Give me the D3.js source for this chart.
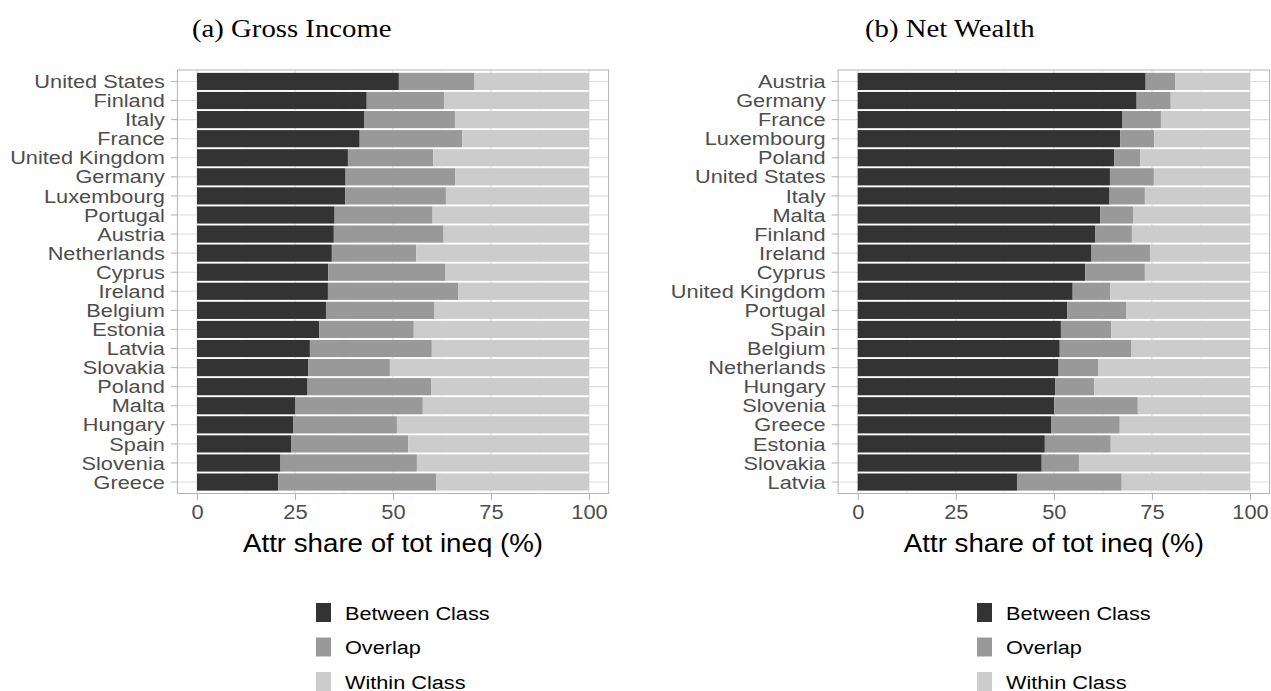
<!DOCTYPE html>
<html>
<head>
<meta charset="utf-8">
<script src="https://cdn.jsdelivr.net/npm/d3@7"></script>
<style>
body { margin: 0; background: #fff; }
svg { display: block; }
</style>
</head>
<body>
<svg id="chart" width="1271" height="691"></svg>
<script>
var components = ["Between Class", "Overlap", "Within Class"];
var fills = ["#333333", "#999999", "#cccccc"];
var xTicks = [0, 25, 50, 75, 100];
var xMinor = [12.5, 37.5, 62.5, 87.5];

// (a) gross income, top to bottom
var incomeCountries = ["United States", "Finland", "Italy", "France", "United Kingdom", "Germany",
    "Luxembourg", "Portugal", "Austria", "Netherlands", "Cyprus", "Ireland", "Belgium", "Estonia",
    "Latvia", "Slovakia", "Poland", "Malta", "Hungary", "Spain", "Slovenia", "Greece"];
var incomeBetween = [51.5, 43.3, 42.6, 41.5, 38.5, 37.9, 37.8, 35.1, 34.9, 34.4, 33.5,
    33.4, 32.9, 31.2, 28.8, 28.4, 28.2, 25.0, 24.6, 24.1, 21.3, 20.7];
var incomeOverlap = [19.3, 19.7, 23.2, 26.2, 21.8, 28.0, 25.7, 25.0, 28.0, 21.5, 29.9,
    33.2, 27.7, 24.1, 31.1, 20.8, 31.6, 32.6, 26.4, 29.8, 34.8, 40.3];
var incomeWithin = [29.2, 37.0, 34.2, 32.3, 39.7, 34.1, 36.5, 39.9, 37.1, 44.1, 36.6,
    33.4, 39.4, 44.7, 40.1, 50.8, 40.2, 42.4, 49.0, 46.1, 43.9, 39.0];

// (b) net wealth, top to bottom
var wealthCountries = ["Austria", "Germany", "France", "Luxembourg", "Poland", "United States",
    "Italy", "Malta", "Finland", "Ireland", "Cyprus", "United Kingdom", "Portugal", "Spain",
    "Belgium", "Netherlands", "Hungary", "Slovenia", "Greece", "Estonia", "Slovakia", "Latvia"];
var wealthBetween = [73.4, 71.1, 67.5, 66.9, 65.4, 64.3, 64.2, 61.8, 60.6, 59.6, 58.0,
    54.8, 53.4, 51.8, 51.5, 51.2, 50.4, 50.1, 49.4, 47.7, 46.9, 40.6];
var wealthOverlap = [7.5, 8.7, 9.8, 8.7, 6.6, 11.2, 9.0, 8.4, 9.3, 14.9, 15.2,
    9.6, 15.1, 12.8, 18.3, 10.1, 9.9, 21.3, 17.4, 16.8, 9.5, 26.7];
var wealthWithin = [19.1, 20.2, 22.7, 24.4, 28.0, 24.5, 26.8, 29.8, 30.1, 25.5, 26.8,
    35.6, 31.5, 35.4, 30.2, 38.7, 39.7, 28.6, 33.2, 35.5, 43.6, 32.7];

// the sans text in the reference is a little wider than plain Arial
var SX = 1.12;
var sans = "'Liberation Sans', Arial, sans-serif";

var svg = d3.select("#chart");

function drawPanel(p) {
    var rows = p.countries.map(function(c, i) {
        return {country: c, "Between Class": p.between[i], "Overlap": p.overlap[i], "Within Class": p.within[i]};
    });
    var series = d3.stack().keys(components)(rows);

    var x = d3.scaleLinear().domain([-5, 105]).range([p.left, p.right]);
    var y = d3.scaleBand().domain(p.countries).range([70, 493.5])
        .paddingInner(0.1).paddingOuter(0.15);

    var g = svg.append("g");

    // grid
    g.selectAll("line.minor").data(xMinor).enter().append("line")
        .attr("x1", x).attr("x2", x).attr("y1", 70).attr("y2", 493.5)
        .attr("stroke", "#ebebeb").attr("stroke-width", 0.6);
    g.selectAll("line.vmajor").data(xTicks).enter().append("line")
        .attr("x1", x).attr("x2", x).attr("y1", 70).attr("y2", 493.5)
        .attr("stroke", "#dedede").attr("stroke-width", 1.1);
    g.selectAll("line.hmajor").data(p.countries).enter().append("line")
        .attr("x1", p.left).attr("x2", p.right)
        .attr("y1", d => y(d) + y.bandwidth() / 2).attr("y2", d => y(d) + y.bandwidth() / 2)
        .attr("stroke", "#dedede").attr("stroke-width", 1.1);

    // bars
    g.selectAll("g.layer").data(series).enter().append("g")
        .attr("fill", (d, i) => fills[i])
        .selectAll("rect").data(d => d).enter().append("rect")
        .attr("x", d => x(d[0]))
        .attr("width", d => x(d[1]) - x(d[0]))
        .attr("y", d => y(d.data.country))
        .attr("height", y.bandwidth());

    // border
    g.append("rect")
        .attr("x", p.left).attr("y", 70)
        .attr("width", p.right - p.left).attr("height", 423.5)
        .attr("fill", "none").attr("stroke", "#b3b3b3").attr("stroke-width", 1);

    // axes
    var ay = g.append("g")
        .attr("transform", `translate(${p.left},0)`)
        .call(d3.axisLeft(y).tickSize(6.5).tickPadding(6));
    var ax = g.append("g")
        .attr("transform", "translate(0,493.5)")
        .call(d3.axisBottom(x).tickValues(xTicks).tickSize(6.5).tickPadding(4));
    [ay, ax].forEach(function(a) {
        a.select(".domain").remove();
        a.selectAll(".tick line").attr("stroke", "#b3b3b3");
        a.selectAll("text")
            .attr("fill", "#4d4d4d")
            .style("font-family", sans)
            .style("font-size", "19.5px")
            .attr("transform", `scale(${SX},1)`);
    });
    // country labels: slightly smaller and wider so neighbours touch less
    ay.selectAll("text")
        .style("font-size", "18.5px")
        .attr("transform", `scale(${SX * 1.05},1)`)
        .attr("x", -12.5 / (SX * 1.05)).attr("dy", "0.36em");
    ax.selectAll("text").attr("dy", "0.78em");

    // axis title
    g.append("text")
        .attr("transform", `translate(${x(50)},552) scale(${SX * 0.97},1)`)
        .attr("text-anchor", "middle")
        .style("font-family", sans).style("font-size", "25.5px")
        .attr("fill", "#000")
        .text("Attr share of tot ineq (%)");

    // panel title
    svg.append("text")
        .attr("transform", `translate(${p.titleX},37) scale(1.15,1)`)
        .style("font-family", "'Liberation Serif', 'Times New Roman', serif")
        .style("font-size", "25px")
        .attr("fill", "#000")
        .text(p.title);

    // legend
    var lg = svg.append("g").attr("transform", `translate(${p.legendX},612.5)`);
    var item = lg.selectAll("g").data(components).enter().append("g")
        .attr("transform", (d, i) => `translate(0,${i * 34.5})`);
    item.append("rect")
        .attr("x", 0).attr("y", -9.5).attr("width", 15).attr("height", 19)
        .attr("fill", (d, i) => fills[i]);
    item.append("text")
        .attr("transform", `translate(29,7) scale(${SX * 1.02},1)`)
        .style("font-family", sans).style("font-size", "19px")
        .attr("fill", "#000")
        .text(d => d);
}

drawPanel({
    title: "(a) Gross Income", titleX: 192,
    countries: incomeCountries, between: incomeBetween, overlap: incomeOverlap, within: incomeWithin,
    left: 177.4, right: 608.6, legendX: 316
});
drawPanel({
    title: "(b) Net Wealth", titleX: 865,
    countries: wealthCountries, between: wealthBetween, overlap: wealthOverlap, within: wealthWithin,
    left: 838.1, right: 1269.6, legendX: 977
});
</script>
</body>
</html>
